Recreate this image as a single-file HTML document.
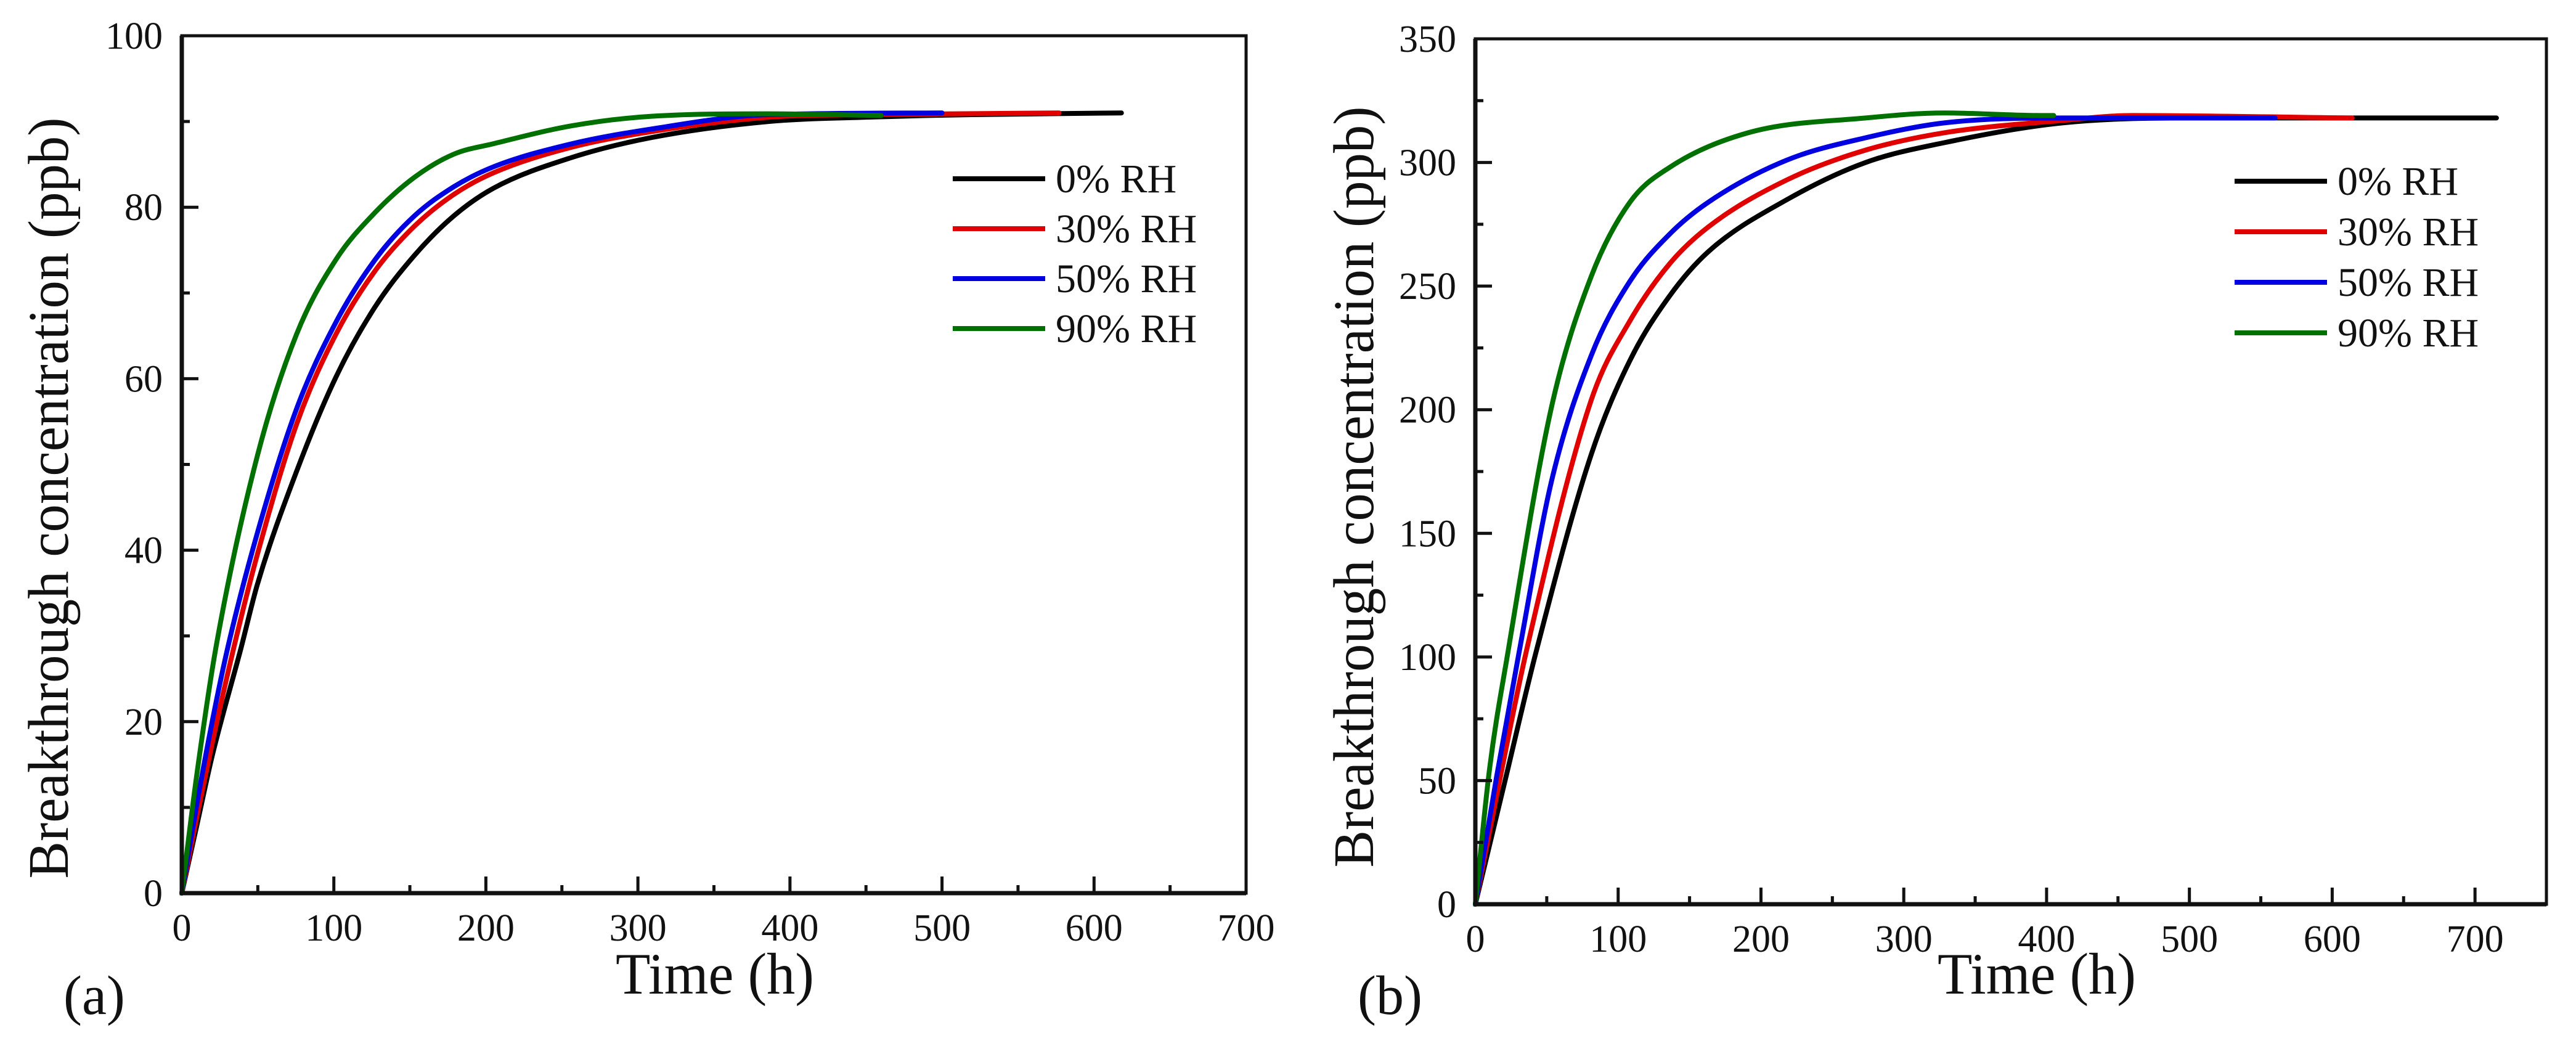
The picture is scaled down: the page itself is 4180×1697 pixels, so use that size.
<!DOCTYPE html>
<html><head><meta charset="utf-8"><style>
html,body{margin:0;padding:0;background:#fff;}
svg{display:block;font-family:"Liberation Serif","DejaVu Serif",serif;}
</style></head><body>
<svg id="fig" width="4180" height="1697" viewBox="0 0 4180 1697" xmlns="http://www.w3.org/2000/svg">
<rect width="4180" height="1697" fill="#fff"/>
<g id="pa"></g>
<g id="pb"></g>
</svg>
<script>
const seriesLabels = ["0% RH","30% RH","50% RH","90% RH"];
const seriesColors = ["#000000","#e00000","#0000e0","#007000"];
// Panel (a)
const aBlackT = [0,10,20,39.1,49.7,75.5,101.4,127.2,153.1,179,204.8,256.5,308.2,385.8,450,520,618];
const aBlackV = [0,8,16,28.7,36,49.2,60.2,68.4,74.4,79,82.2,85.8,88.1,90,90.5,90.8,91];
const aRedT = [0,10,20,34.3,49.7,75.5,101.4,127.2,153.1,179,204.8,256.5,308.2,385.8,450,577];
const aRedV = [0,9,17.5,28.7,39.5,54.7,65.2,72.6,77.8,81.5,84,87,88.8,90.5,90.8,91];
const aBlueT = [0,10,20,30.3,49.7,75.5,101.4,127.2,153.1,179,204.8,256.5,308.2,385.8,500];
const aBlueV = [0,10.5,20,28.7,42,56.5,66.6,73.9,79,82.4,84.7,87.4,89.1,90.8,91];
const aGreenT = [0,10,22.5,49.7,75.5,101.4,127.2,153.1,179,204.8,256.5,308.2,385.8,460];
const aGreenV = [0,14,28.7,51,65.2,73.9,79.4,83.5,86.2,87.4,89.5,90.6,90.9,90.7];
// Panel (b)
const bBlackT = [0,20,42.3,81.2,108.3,136,163.3,218.3,273.3,328.3,411,500,600,715];
const bBlackV = [0,48,101.5,182,220,246,264,285,300,308,316,318,318,318];
const bRedT = [0,17,35.4,81.2,108.3,136,163.3,218.3,273.3,328.3,411,460,614];
const bRedV = [0,50,101.5,204,236,259,274,293,305,312,317,319,318];
const bBlueT = [0,15,30.5,53.3,81.2,108.3,136,163.3,218.3,273.3,328.3,411,560];
const bBlueV = [0,52,101.5,171,222,252,271,284,301,310,316,318,318];
const bGreenT = [0,10,22.7,53.3,81.2,108.3,136,191,273.3,329,397,405];
const bGreenV = [0,55,101.5,201,254,284,298,312,318,320,319,319];
const aXTicks = [0,100,200,300,400,500,600,700];
const aYTicks = [0,20,40,60,80,100];
const bXTicks = [0,100,200,300,400,500,600,700];
const bYTicks = [0,50,100,150,200,250,300,350];

const NS="http://www.w3.org/2000/svg";
function mk(parent,tag,attrs,text){const e=document.createElementNS(NS,tag);for(const k in attrs)e.setAttribute(k,attrs[k]);if(text!==undefined)e.textContent=text;parent.appendChild(e);return e;}

function smoothPath(xs,ys){
  const n=xs.length;
  const d=[],m=new Array(n);
  for(let i=0;i<n-1;i++)d.push((ys[i+1]-ys[i])/(xs[i+1]-xs[i]));
  m[0]=d[0];m[n-1]=d[n-2];
  for(let i=1;i<n-1;i++){m[i]=(d[i-1]*d[i]<=0)?0:(d[i-1]+d[i])/2;}
  for(let i=0;i<n-1;i++){
    if(d[i]===0){m[i]=0;m[i+1]=0;continue;}
    const a=m[i]/d[i],b=m[i+1]/d[i],s=a*a+b*b;
    if(s>9){const t=3/Math.sqrt(s);m[i]=t*a*d[i];m[i+1]=t*b*d[i];}
  }
  let p="M"+xs[0].toFixed(1)+","+ys[0].toFixed(1);
  for(let i=0;i<n-1;i++){
    const h=(xs[i+1]-xs[i])/3;
    p+="C"+(xs[i]+h).toFixed(1)+","+(ys[i]+m[i]*h).toFixed(1)+" "+(xs[i+1]-h).toFixed(1)+","+(ys[i+1]-m[i+1]*h).toFixed(1)+" "+xs[i+1].toFixed(1)+","+ys[i+1].toFixed(1);
  }
  return p;
}

function panel(g,cfg){
  const sx=v=>cfg.L+(v-cfg.x0)/(cfg.x1-cfg.x0)*(cfg.R-cfg.L);
  const sy=v=>cfg.B-(v-cfg.y0)/(cfg.y1-cfg.y0)*(cfg.B-cfg.T);
  cfg.series.forEach((s,i)=>{
    const d=smoothPath(s.t.map(sx),s.v.map(sy));
    const p=mk(g,"path",{d:d,fill:"none",stroke:seriesColors[i],"stroke-width":8,"stroke-linejoin":"round","stroke-linecap":"round"});
    
    
  });
  const f=mk(g,"rect",{x:cfg.L,y:cfg.T,width:cfg.R-cfg.L,height:cfg.B-cfg.T,fill:"none",stroke:"#111","stroke-width":5});
  
  
  const ax=mk(g,"path",{d:`M${cfg.L},${cfg.T}L${cfg.L},${cfg.B}L${cfg.R},${cfg.B}`,fill:"none",stroke:"#111","stroke-width":7});
  
  
  const xs=cfg.xTicks[1]-cfg.xTicks[0];
  for(let v=cfg.x0;v<=cfg.x1+0.01;v+=xs/2){
    const major=Math.abs((v/xs)-Math.round(v/xs))<0.01;
    const t=mk(g,"line",{x1:sx(v),x2:sx(v),y1:cfg.B,y2:cfg.B-(major?27:13),stroke:"#111","stroke-width":5});
    
    
  }
  cfg.xTicks.forEach(v=>{
    const t=mk(g,"text",{x:sx(v),y:cfg.B+77,"font-size":62,"text-anchor":"middle",fill:"#111"},String(v));
    
    
  });
  const ys=cfg.yTicks[1]-cfg.yTicks[0];
  for(let v=cfg.y0;v<=cfg.y1+0.01;v+=ys/2){
    const major=Math.abs((v/ys)-Math.round(v/ys))<0.01;
    const t=mk(g,"line",{x1:cfg.L,x2:cfg.L+(major?27:13),y1:sy(v),y2:sy(v),stroke:"#111","stroke-width":5});
    
    
  }
  cfg.yTicks.forEach(v=>{
    const t=mk(g,"text",{x:cfg.L-31,y:sy(v)+21,"font-size":62,"text-anchor":"end",fill:"#111"},String(v));
    
    
  });
  const xt=mk(g,"text",{x:cfg.xtX,y:1612,"font-size":95,"text-anchor":"middle",textLength:322,lengthAdjust:"spacingAndGlyphs",fill:"#111"},"Time (h)");
  
  
  const yt=mk(g,"text",{x:0,y:0,"font-size":93,"text-anchor":"middle",textLength:1235,lengthAdjust:"spacingAndGlyphs",fill:"#111",transform:`translate(${cfg.ytX},${cfg.ytY}) rotate(-90)`},"Breakthrough  concentration  (ppb)");
  
  
  const pl=mk(g,"text",{x:cfg.plX,y:1645,"font-size":90,fill:"#111"},cfg.panelLabel);
  
  
  seriesLabels.forEach((lab,i)=>{
    const y=cfg.legY+i*cfg.legDy;
    const lg=mk(g,"g",{});
    
    
    mk(lg,"line",{x1:cfg.legX,x2:cfg.legX+150,y1:y,y2:y,stroke:seriesColors[i],"stroke-width":8});
    mk(lg,"text",{x:cfg.legX+167,y:y+22,"font-size":66,fill:"#111"},lab);
  });
}

panel(document.getElementById('pa'),{L:295,R:2022,T:58,B:1449,x0:0,x1:700,y0:0,y1:100,
  xTicks:aXTicks,yTicks:aYTicks,xtX:1160,ytX:110,ytY:808,plX:103,panelLabel:"(a)",
  legX:1546,legY:290,legDy:81,
  series:[{t:aBlackT,v:aBlackV},{t:aRedT,v:aRedV},{t:aBlueT,v:aBlueV},{t:aGreenT,v:aGreenV}]});
panel(document.getElementById('pb'),{L:2394,R:4132,T:63,B:1467,x0:0,x1:750,y0:0,y1:350,
  xTicks:bXTicks,yTicks:bYTicks,xtX:3305,ytX:2228,ytY:790,plX:2203,panelLabel:"(b)",
  legX:3626,legY:294,legDy:82,
  series:[{t:bBlackT,v:bBlackV},{t:bRedT,v:bRedV},{t:bBlueT,v:bBlueV},{t:bGreenT,v:bGreenV}]});
</script>
</body></html>
